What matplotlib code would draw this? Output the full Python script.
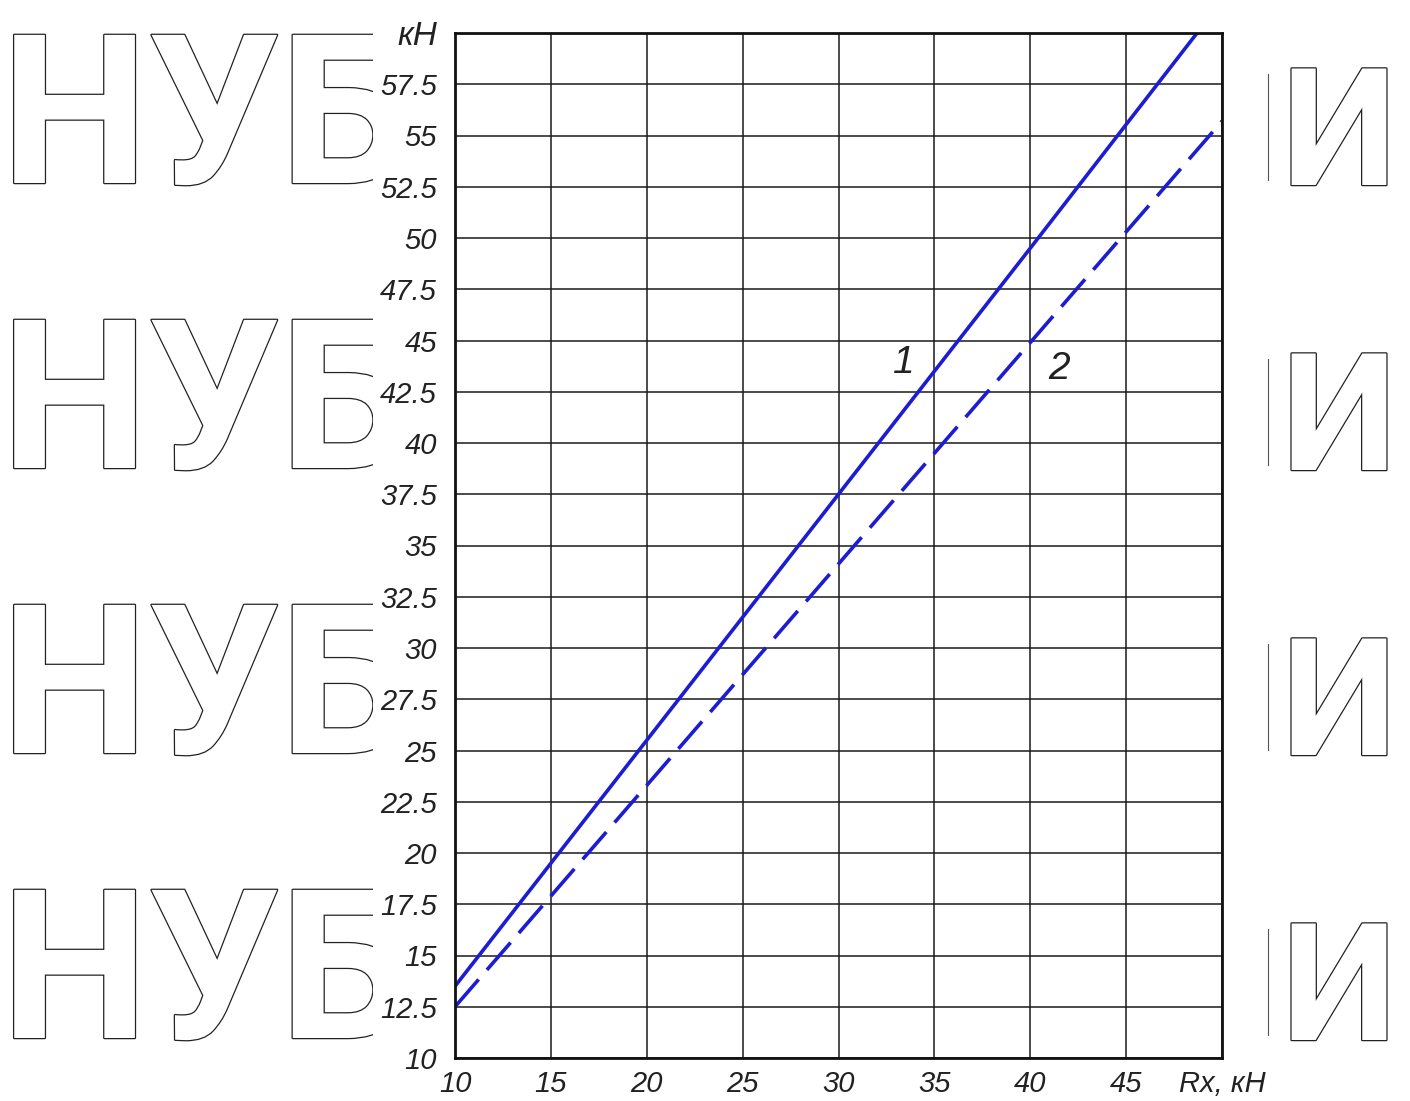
import matplotlib
matplotlib.use("Agg")
import matplotlib.pyplot as plt
import matplotlib.patheffects as pe
from matplotlib.patches import Rectangle
from matplotlib.lines import Line2D

# ---- data ----
x_line1 = [10, 20, 30, 40, 48.7]
y_line1 = [13.5, 25.5, 37.5, 49.5, 60.0]
x_line2 = [10, 20, 30, 40, 50]
y_line2 = [12.5, 23.3, 34.1, 44.9, 55.7]

x_ticks = [10, 15, 20, 25, 30, 35, 40, 45, 50]
x_ticklabels = ["10", "15", "20", "25", "30", "35", "40", "45", "Rx, кН"]
y_ticks = [10, 12.5, 15, 17.5, 20, 22.5, 25, 27.5, 30, 32.5, 35, 37.5, 40,
           42.5, 45, 47.5, 50, 52.5, 55, 57.5, 60]
y_ticklabels = ["10", "12.5", "15", "17.5", "20", "22.5", "25", "27.5", "30",
                "32.5", "35", "37.5", "40", "42.5", "45", "47.5", "50", "52.5",
                "55", "57.5", "кН"]
curve_labels = ["1", "2"]
curve_label_pos = [(33.4, 43.9), (41.5, 43.6)]

W, H = 1410, 1101
fig = plt.figure(figsize=(W / 100, H / 100), dpi=100)
fig.patch.set_facecolor("white")

FONT = ["Liberation Sans", "DejaVu Sans"]

# ---- background watermark ----
wm_font = ["Roboto", "DejaVu Sans"]
stroke = [pe.withStroke(linewidth=1.8, foreground="#222222")]
for yb in [183, 468, 753, 1038]:
    fig.text(1 / W, 1 - yb / H, "НУБ", fontsize=150, fontweight="bold",
             family=wm_font, color="white", ha="left", va="baseline",
             path_effects=stroke, zorder=-3)
for yb in [185, 470, 755, 1040]:
    fig.text(1282 / W, 1 - yb / H, "И", fontsize=118, fontweight="bold",
             family=wm_font, color="white", ha="left", va="baseline",
             path_effects=stroke, zorder=-3)
# white sheet on which the chart was drawn
fig.patches.append(Rectangle((373 / W, 0), (1267 - 373) / W, 1,
                             transform=fig.transFigure, facecolor="white",
                             edgecolor="none", zorder=-2))
for yc in [127, 412, 697, 982]:
    fig.add_artist(Line2D([1268 / W, 1268 / W], [1 - (yc - 53) / H, 1 - (yc + 53) / H],
                          transform=fig.transFigure, color="#555555", lw=0.8, zorder=-1))

# ---- chart ----
ax = fig.add_axes([455 / W, 1 - 1058 / H, (1222 - 455) / W, (1058 - 33) / H])
ax.set_facecolor("white")
ax.set_xlim(10, 50)
ax.set_ylim(10, 60)
ax.set_xticks(x_ticks)
ax.set_yticks(y_ticks)
ax.set_xticklabels(x_ticklabels)
ax.set_yticklabels(y_ticklabels)
ax.tick_params(length=0, labelsize=21, pad=9)
ax.tick_params(axis="y", pad=13)
for lab in ax.get_xticklabels() + ax.get_yticklabels():
    lab.set_fontstyle("italic")
    lab.set_family(FONT)
    lab.set_color("#222222")
ax.get_yticklabels()[-1].set_fontsize(24)
ax.grid(True, color="#1a1a1a", lw=1.1)
ax.set_axisbelow(True)
for sp in ax.spines.values():
    sp.set_linewidth(2.0)
    sp.set_color("#111111")

blue = "#1c1cd2"
ax.plot(x_line1, y_line1, color=blue, lw=2.6, solid_capstyle="butt", clip_on=True)
ax.plot(x_line2, y_line2, color=blue, lw=2.6, linestyle=(0, (10, 3.5)),
        dash_capstyle="butt", clip_on=True)

for lab, (lx, ly) in zip(curve_labels, curve_label_pos):
    ax.text(lx, ly, lab, fontsize=28, fontstyle="italic", family=FONT,
            color="#222222", ha="center", va="center")

fig.savefig("out.png", dpi=100, facecolor="white")
